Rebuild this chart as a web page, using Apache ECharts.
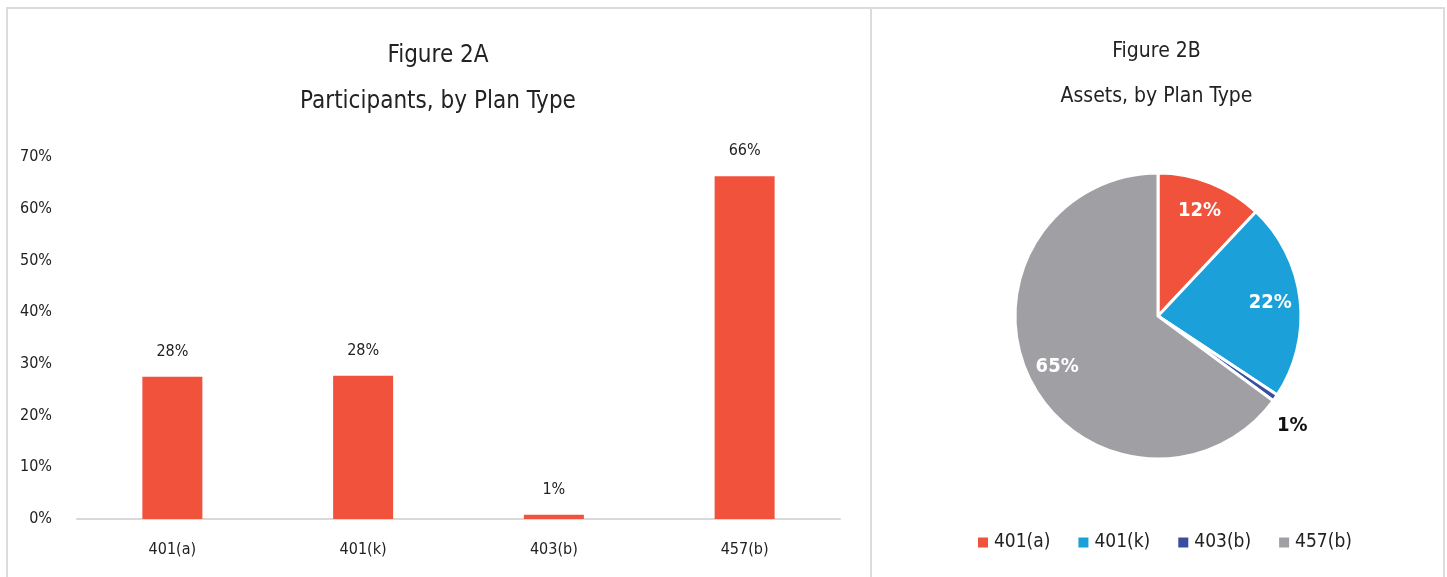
<!DOCTYPE html>
<html>
<head>
<meta charset="utf-8">
<script src="https://cdn.jsdelivr.net/npm/echarts@6/dist/echarts.min.js"></script>
<style>
  body { margin: 0; background: #fff; width: 1447px; height: 577px; overflow: hidden; position: relative; }
  .frame { position: absolute; top: 7px; height: 620px; border-top: 2px solid #dcdcdc; box-sizing: border-box; }
  #frameA { left: 6px; width: 866px; border-left: 2px solid #dcdcdc; border-right: 2px solid #dcdcdc; }
  #frameB { left: 870px; width: 575px; border-right: 2px solid #dcdcdc; }
  #chartA { position: absolute; left: 6px; top: 0; width: 864px; height: 577px; }
  #chartB { position: absolute; left: 870px; top: 0; width: 573px; height: 577px; }
</style>
</head>
<body>
<div class="frame" id="frameA"></div>
<div class="frame" id="frameB"></div>
<div id="chartA"></div>
<div id="chartB"></div>
<script>
// Figure 2A: participants by plan type (percent)
const planTypes = ['401(a)', '401(k)', '403(b)', '457(b)'];
const participantShare = [27.5, 27.7, 0.8, 66.3];
// Figure 2B: assets by plan type (percent)
const assetShare = [12.0, 22.3, 0.8, 64.9];
const yTicks = { min: 0, max: 70, interval: 10 };

const FONT = '"Liberation Sans Narrow", "DejaVu Sans Condensed", "Roboto", sans-serif';
const TEXT = '#222222';
const RED = '#F0523B';
const pieColors = ['#F0523B', '#1BA0DA', '#3A4EA0', '#A0A0A4'];

const pct = v => Math.round(v) + '%';

const chartA = echarts.init(document.getElementById('chartA'));
chartA.setOption({
  animation: false,
  textStyle: { fontFamily: FONT },
  title: {
    text: 'Figure 2A\nParticipants, by Plan Type',
    left: 'center',
    top: 28,
    textStyle: { fontFamily: FONT, fontSize: 24, fontWeight: 'normal', color: TEXT, lineHeight: 46 }
  },
  grid: { left: 71, right: 30, top: 157, bottom: 58 },
  xAxis: {
    type: 'category',
    data: planTypes,
    axisLine: { lineStyle: { color: '#d9d9d9', width: 2 } },
    axisTick: { show: false },
    axisLabel: { color: TEXT, fontSize: 16, margin: 23, fontFamily: FONT }
  },
  yAxis: {
    type: 'value',
    min: yTicks.min,
    max: yTicks.max,
    interval: yTicks.interval,
    splitLine: { show: false },
    axisLine: { show: false },
    axisTick: { show: false },
    axisLabel: { color: TEXT, fontSize: 16, margin: 25, fontFamily: FONT, formatter: '{value}%' }
  },
  series: [{
    type: 'bar',
    data: participantShare,
    barWidth: 60,
    itemStyle: { color: RED },
    label: {
      show: true,
      position: 'top',
      distance: 17,
      color: TEXT,
      fontSize: 16,
      fontFamily: FONT,
      formatter: p => pct(p.value)
    }
  }]
});

const pieData = planTypes.map((name, i) => ({ name, value: assetShare[i] }));
const pieCenter = [288, 316];

const chartB = echarts.init(document.getElementById('chartB'));
chartB.setOption({
  animation: false,
  color: pieColors,
  textStyle: { fontFamily: FONT },
  title: {
    text: 'Figure 2B\nAssets, by Plan Type',
    left: 'center',
    top: 24,
    textStyle: { fontFamily: FONT, fontSize: 21, fontWeight: 'normal', color: TEXT, lineHeight: 45 }
  },
  legend: {
    data: planTypes,
    left: 101,
    top: 528,
    icon: 'rect',
    itemWidth: 12,
    itemHeight: 12,
    itemGap: 26,
    itemTextGap: 8,
    textStyle: { color: TEXT, fontSize: 19, fontFamily: FONT }
  },
  series: [
    {
      type: 'pie',
      center: pieCenter,
      radius: 143,
      startAngle: 90,
      clockwise: true,
      avoidLabelOverlap: false,
      itemStyle: { borderColor: '#fff', borderWidth: 3 },
      label: { show: false },
      labelLine: { show: false },
      data: pieData
    },
    {
      // label layer, drawn at about 3/4 of the radius like the original
      type: 'pie',
      center: pieCenter,
      radius: [77, 143],
      startAngle: 90,
      clockwise: true,
      silent: true,
      avoidLabelOverlap: false,
      itemStyle: { color: 'transparent', borderWidth: 0 },
      label: {
        show: true,
        position: 'inside',
        color: '#fff',
        fontSize: 20,
        fontWeight: 'bold',
        fontFamily: FONT,
        formatter: p => pct(p.value)
      },
      labelLine: { show: false, length: 18, length2: 2 },
      data: pieData.map(d => d.name === '403(b)'
        ? Object.assign({}, d, { label: { position: 'outside', color: '#111', offset: [-20, 18] } })
        : d)
    }
  ]
});
</script>
</body>
</html>
